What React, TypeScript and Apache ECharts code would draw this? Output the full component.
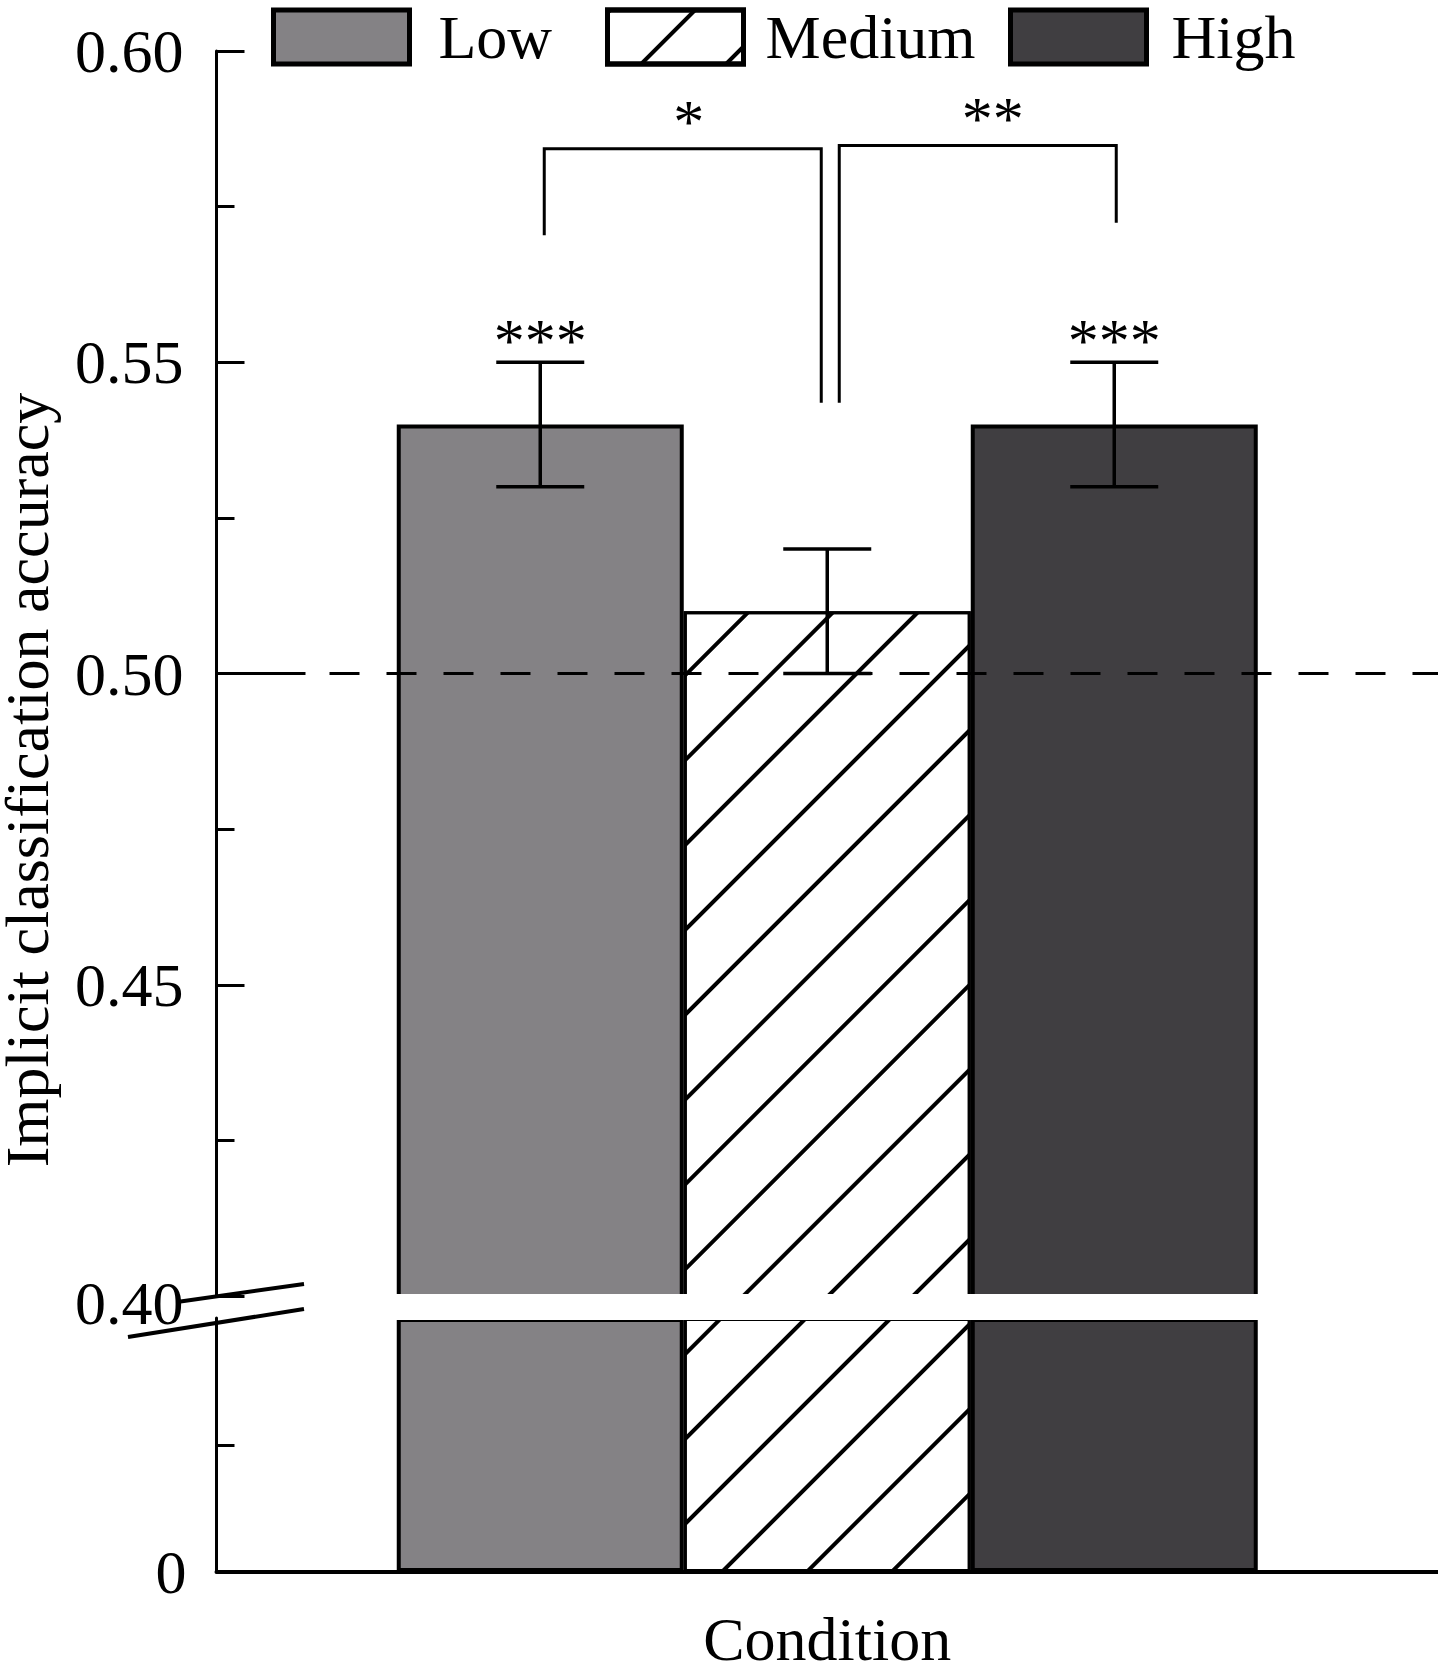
import React, { useEffect, useRef } from 'react';
import * as echarts from 'echarts';

// ---------------- data ----------------
const CATEGORIES = ['Condition'];
const GROUPS = ['Low', 'Medium', 'High'];
const MEANS = [0.54, 0.51, 0.54];
const ERRORS = [0.01, 0.01, 0.01];
const STAR_LABELS = ['***', '', '***'];
const CHANCE_LEVEL = 0.5;
// significance brackets: which groups they join, top height, leg end heights
const BRACKET_PAIRS = [[0, 1], [1, 2]];
const BRACKET_TOPS = [0.5843, 0.5848];
const BRACKET_LEG_ENDS = [[0.5704, 0.5435], [0.5435, 0.5724]];
const BRACKET_LABELS = ['*', '**'];
// axis ranges
const TOP_MIN = 0.4;
const TOP_MAX = 0.6;
const TOP_STEP = 0.05;
const BOTTOM_MIN = 0;
const BOTTOM_MAX = 0.4;
const BOTTOM_STEP = 0.2;
const BOTTOM_TICKS = [0.2];
const BOTTOM_LABELS = [0];

// ---------------- layout / style ----------------
const W = 1438;
const H = 1664;
const AXIS_X = 216.5;
const TOP_Y = 51;
const TOP_BOTTOM = 1296;
const BOT_TOP = 1318;
const BOT_BOTTOM = 1572;
const BAR_W = 287;
const CAP_W = 88;
const FONT = "'Liberation Serif', 'Times New Roman', Times, serif";
const FS = 62;
const COLORS = ['#848285', '#ffffff', '#403e41'];
const BRACKET_NUDGE = [[4, -6], [12, 2]];
const BRACKET_LABEL_NUDGE = [6, 15];

const HATCH = {
  symbol: 'rect',
  symbolSize: 1,
  color: '#000',
  dashArrayX: [1, 0],
  dashArrayY: [3.5, 55.5],
  rotation: -Math.PI / 4,
};

function itemStyleFor(i: number) {
  const s: any = {
    color: COLORS[i],
    borderColor: '#000',
    borderWidth: i === 1 ? 3 : 4,
  };
  if (i === 1) s.decal = HATCH;
  return s;
}

function buildOption(): any {
  const topBars = GROUPS.map((g, i) => ({
    type: 'bar',
    name: g,
    xAxisIndex: 0,
    yAxisIndex: 0,
    data: [MEANS[i]],
    barWidth: BAR_W,
    barGap: '0%',
    clip: true,
    itemStyle: itemStyleFor(i),
    emphasis: { disabled: true },
    z: 2,
  }));
  const bottomBars = GROUPS.map((g, i) => ({
    type: 'bar',
    name: g,
    xAxisIndex: 1,
    yAxisIndex: 1,
    data: [Math.min(MEANS[i], BOTTOM_MAX)],
    barWidth: BAR_W,
    barGap: '0%',
    clip: true,
    itemStyle: itemStyleFor(i),
    emphasis: { disabled: true },
    z: 2,
  }));

  const dash: number[] = [89, 24];
  for (let k = 0; k < 24; k++) dash.push(30, 27);

  const errorSeries = {
    type: 'custom',
    name: 'errors',
    xAxisIndex: 0,
    yAxisIndex: 0,
    encode: { x: 0, y: [1, 2] },
    data: MEANS.map((m, i) => [0, m - ERRORS[i], m + ERRORS[i], i]),
    z: 5,
    silent: true,
    renderItem: (params: any, api: any) => {
      const i = api.value(3);
      const pHi = api.coord([0, api.value(2)]);
      const pLo = api.coord([0, api.value(1)]);
      const xC = pHi[0] + (i - 1) * BAR_W;
      const half = CAP_W / 2;
      const st = { stroke: '#000', lineWidth: 3.5 };
      const children: any[] = [
        { type: 'line', shape: { x1: xC, y1: pLo[1], x2: xC, y2: pHi[1] }, style: st },
        { type: 'line', shape: { x1: xC - half, y1: pHi[1], x2: xC + half, y2: pHi[1] }, style: st },
        { type: 'line', shape: { x1: xC - half, y1: pLo[1], x2: xC + half, y2: pLo[1] }, style: st },
      ];
      const lbl = STAR_LABELS[params.dataIndex];
      if (lbl) {
        children.push({
          type: 'text',
          style: {
            text: lbl,
            x: xC,
            y: pHi[1] - 22,
            fill: '#000',
            fontSize: FS,
            fontFamily: FONT,
            align: 'center',
            verticalAlign: 'middle',
          },
        });
      }
      return { type: 'group', children };
    },
    markLine: {
      silent: true,
      symbol: ['none', 'none'],
      label: { show: false },
      lineStyle: { color: '#000', width: 3, type: dash },
      data: [{ yAxis: CHANCE_LEVEL }],
      z: 6,
    },
  };

  const bracketSeries = {
    type: 'custom',
    name: 'brackets',
    xAxisIndex: 0,
    yAxisIndex: 0,
    encode: { x: 0, y: [1, 2, 3] },
    data: BRACKET_TOPS.map((t, k) => [0, t, BRACKET_LEG_ENDS[k][0], BRACKET_LEG_ENDS[k][1]]),
    z: 5,
    silent: true,
    renderItem: (params: any, api: any) => {
      const k = params.dataIndex;
      const top = api.coord([0, api.value(1)]);
      const [a, b] = BRACKET_PAIRS[k];
      const xA = top[0] + (a - 1) * BAR_W + BRACKET_NUDGE[k][0];
      const xB = top[0] + (b - 1) * BAR_W + BRACKET_NUDGE[k][1];
      const yA = api.coord([0, api.value(2)])[1];
      const yB = api.coord([0, api.value(3)])[1];
      return {
        type: 'group',
        children: [
          {
            type: 'polyline',
            shape: { points: [[xA, yA], [xA, top[1]], [xB, top[1]], [xB, yB]] },
            style: { stroke: '#000', lineWidth: 3, fill: null },
          },
          {
            type: 'text',
            style: {
              text: BRACKET_LABELS[k],
              x: (xA + xB) / 2 + BRACKET_LABEL_NUDGE[k],
              y: top[1] - 28,
              fill: '#000',
              fontSize: FS,
              fontFamily: FONT,
              align: 'center',
              verticalAlign: 'middle',
            },
          },
        ],
      };
    },
  };

  const axisTextStyle = { color: '#000', fontSize: FS, fontFamily: FONT };
  const legendPos = [
    { left: 271, pad: 24 },
    { left: 605, pad: 17 },
    { left: 1008, pad: 20 },
  ];

  return {
    animation: false,
    backgroundColor: '#fff',
    textStyle: { fontFamily: FONT },
    legend: GROUPS.map((g, i) => ({
      data: [g],
      left: legendPos[i].left,
      top: 6,
      padding: 0,
      icon: 'rect',
      itemWidth: 136,
      itemHeight: 54,
      selectedMode: false,
      itemStyle: { borderColor: '#000', borderWidth: 5 },
      textStyle: { ...axisTextStyle, padding: [0, 0, 0, legendPos[i].pad] },
    })),
    grid: [
      { left: AXIS_X, right: 0, top: TOP_Y, height: TOP_BOTTOM - TOP_Y, containLabel: false, outerBoundsMode: 'none' },
      { left: AXIS_X, right: 0, top: BOT_TOP, height: BOT_BOTTOM - BOT_TOP, containLabel: false, outerBoundsMode: 'none' },
    ],
    xAxis: [
      { type: 'category', gridIndex: 0, data: CATEGORIES, show: false },
      {
        type: 'category',
        gridIndex: 1,
        data: CATEGORIES,
        axisLine: { show: true, lineStyle: { color: '#000', width: 4 } },
        axisTick: { show: false },
        axisLabel: { show: false },
        name: 'Condition',
        nameLocation: 'middle',
        nameGap: 36,
        nameTextStyle: axisTextStyle,
      },
    ],
    yAxis: [
      {
        type: 'value',
        gridIndex: 0,
        min: TOP_MIN,
        max: TOP_MAX,
        interval: TOP_STEP,
        splitLine: { show: false },
        axisLine: { show: true, lineStyle: { color: '#000', width: 3 } },
        axisTick: { show: true, inside: true, length: 28, lineStyle: { color: '#000', width: 3 } },
        minorTick: { show: true, splitNumber: 2, length: 18, lineStyle: { color: '#000', width: 3 } },
        axisLabel: {
          ...axisTextStyle,
          margin: 33,
          formatter: (v: number) =>
            Math.abs(v - TOP_MIN) < 1e-9 ? `{low|${v.toFixed(2)}}` : v.toFixed(2),
          rich: { low: { ...axisTextStyle, padding: [14, 0, 0, 0] } },
        },
      },
      {
        type: 'value',
        gridIndex: 1,
        min: BOTTOM_MIN,
        max: BOTTOM_MAX,
        interval: BOTTOM_STEP,
        splitLine: { show: false },
        axisLine: { show: true, lineStyle: { color: '#000', width: 3 } },
        axisTick: { show: true, inside: true, length: 18, customValues: BOTTOM_TICKS, lineStyle: { color: '#000', width: 3 } },
        axisLabel: { ...axisTextStyle, margin: 30, customValues: BOTTOM_LABELS, formatter: (v: number) => String(v) },
      },
    ],
    graphic: [
      {
        type: 'rect',
        z: 100,
        silent: true,
        shape: { x: 306, y: TOP_BOTTOM - 2, width: W - 306, height: BOT_TOP - TOP_BOTTOM + 4 },
        style: { fill: '#fff' },
      },
      {
        type: 'line',
        z: 101,
        silent: true,
        shape: { x1: 177, y1: 1302, x2: 304, y2: 1284 },
        style: { stroke: '#000', lineWidth: 4 },
      },
      {
        type: 'line',
        z: 101,
        silent: true,
        shape: { x1: 128, y1: 1337, x2: 304, y2: 1309 },
        style: { stroke: '#000', lineWidth: 4 },
      },
      {
        type: 'text',
        z: 101,
        x: 27,
        y: 780,
        rotation: Math.PI / 2,
        style: {
          text: 'Implicit classification accuracy',
          fill: '#000',
          fontSize: FS,
          fontFamily: FONT,
          align: 'center',
          verticalAlign: 'middle',
        },
      },
    ],
    series: [...topBars, ...bottomBars, errorSeries, bracketSeries],
  };
}

export default function App() {
  const ref = useRef<HTMLDivElement>(null);
  useEffect(() => {
    document.body.style.margin = '0';
    if (!ref.current) return;
    const chart = echarts.init(ref.current, undefined, { renderer: 'svg', width: W, height: H });
    chart.setOption(buildOption());
    return () => chart.dispose();
  }, []);
  return <div ref={ref} style={{ width: W, height: H }} />;
}
